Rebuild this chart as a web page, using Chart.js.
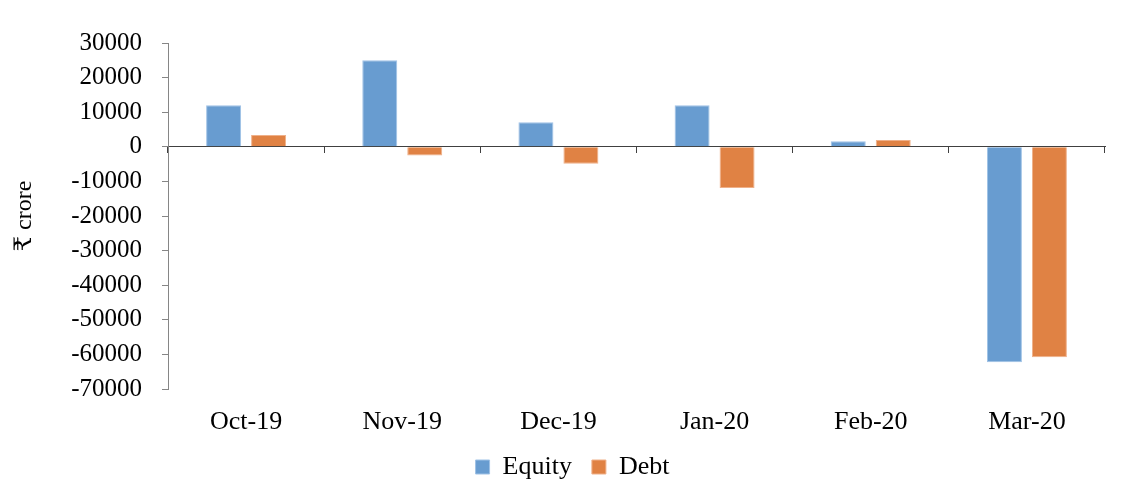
<!DOCTYPE html>
<html>
<head>
<meta charset="utf-8">
<script src="https://cdn.jsdelivr.net/npm/chart.js@4"></script>
<style>
  html, body { margin: 0; padding: 0; background: #ffffff; }
  #wrap { width: 1127px; height: 483px; position: relative; }
</style>
</head>
<body>
<div id="wrap"><canvas id="c" width="1127" height="483"></canvas></div>
<script>
const categories = ["Oct-19", "Nov-19", "Dec-19", "Jan-20", "Feb-20", "Mar-20"];
const equity = [12000, 25000, 7100, 12000, 1600, -62300];
const debt = [3400, -2500, -4900, -11900, 2000, -60800];
const yTicks = [30000, 20000, 10000, 0, -10000, -20000, -30000, -40000, -50000, -60000, -70000];
const seriesNames = ["Equity", "Debt"];
const yTitle = "₹ crore";

const serif = "'Liberation Serif', 'Times New Roman', 'DejaVu Serif', serif";

const legendShift = {
  id: 'legendShift',
  afterLayout(chart) {
    if (chart.legend) { chart.legend.left += 20; chart.legend.right += 20; }
  }
};

new Chart(document.getElementById('c'), {
  type: 'bar',
  plugins: [legendShift],
  data: {
    labels: categories,
    datasets: [
      { label: seriesNames[0], data: equity, xAxisID: 'x', yAxisID: 'y',
        backgroundColor: '#689CD0', borderColor: '#9fc2e6', borderWidth: 1,
        categoryPercentage: 0.576, barPercentage: 0.778 },
      { label: seriesNames[1], data: debt, xAxisID: 'x', yAxisID: 'y',
        backgroundColor: '#E08244', borderColor: '#efb089', borderWidth: 1,
        categoryPercentage: 0.576, barPercentage: 0.778 }
    ]
  },
  options: {
    responsive: false,
    animation: false,
    devicePixelRatio: 1,
    layout: { padding: { top: 43, right: 22, left: 0, bottom: -7 } },
    plugins: {
      title: { display: false },
      tooltip: { enabled: false },
      legend: {
        display: true,
        position: 'bottom',
        labels: {
          color: '#000',
          font: { family: serif, size: 26, lineHeight: 1 },
          boxWidth: 14, boxHeight: 14, padding: 20
        }
      }
    },
    scales: {
      x: {
        type: 'category',
        position: 'bottom',
        offset: true,
        border: { display: false },
        grid: { display: false },
        ticks: { color: '#000', font: { family: serif, size: 26 }, padding: 10, maxRotation: 0, autoSkip: false },
        afterFit: (s) => { s.height = 45; }
      },
      x2: {
        type: 'category',
        labels: categories,
        position: { y: 0 },
        offset: true,
        border: { display: true, color: '#404040', width: 1 },
        grid: { display: true, offset: true, drawOnChartArea: false, drawTicks: true, tickLength: 6, color: '#404040' },
        ticks: { display: false }
      },
      y: {
        type: 'linear',
        position: 'left',
        min: -70000,
        max: 30000,
        afterBuildTicks: (s) => { s.ticks = yTicks.map(v => ({ value: v })); },
        border: { display: true, color: '#868686', width: 1 },
        grid: { display: true, drawOnChartArea: false, drawTicks: true, tickLength: 6, color: '#868686' },
        ticks: { color: '#000', font: { family: serif, size: 25 }, padding: 20, callback: (v) => String(v) },
        title: { display: true, text: yTitle, color: '#000', font: { family: serif, size: 24 }, padding: { top: 10, bottom: 0 } },
        afterFit: (s) => { s.width = 168; }
      }
    }
  }
});
</script>
</body>
</html>
